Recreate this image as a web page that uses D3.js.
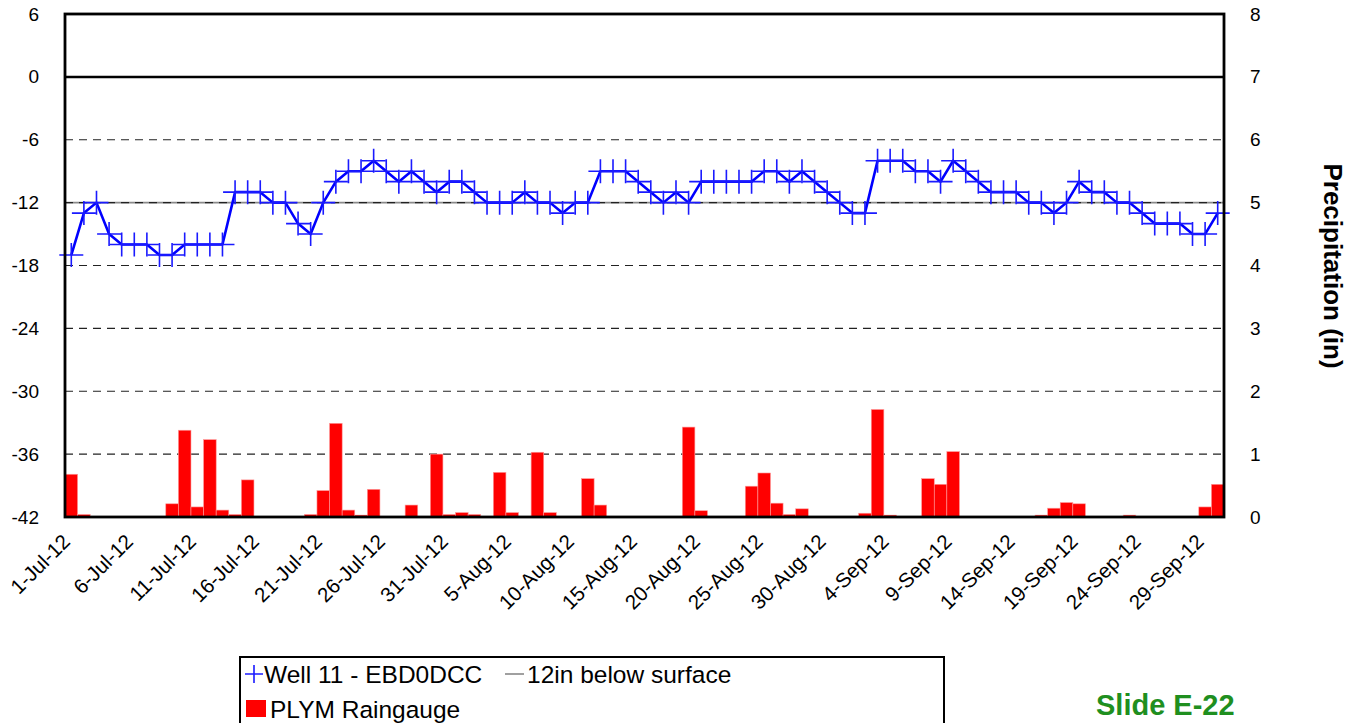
<!DOCTYPE html>
<html>
<head>
<meta charset="utf-8">
<script src="https://cdn.jsdelivr.net/npm/d3@7"></script>
<style>
  html, body { margin: 0; padding: 0; background: #fff; }
  svg { display: block; font-family: "Liberation Sans", Arial, sans-serif; }
</style>
</head>
<body>
<svg id="chart" width="1360" height="723"></svg>
<script>
// Daily groundwater level (inches relative to surface), 1 Jul – 30 Sep 2012
const wellLevel = [
  -17,-13,-12,-15,-16,-16,-16,-17,-17,-16,-16,-16,-16,-11,-11,-11,-12,-12,-14,-15,
  -12,-10,-9,-9,-8,-9,-10,-9,-10,-11,-10,
  -10,-11,-12,-12,-12,-11,-12,-12,-13,-12,-12,-9,-9,-9,-10,-11,-12,-11,-12,-10,
  -10,-10,-10,-10,-9,-9,-10,-9,-10,-11,-12,
  -13,-13,-8,-8,-8,-9,-9,-10,-8,-9,-10,-11,-11,-11,-12,-12,-13,-12,-10,-11,
  -11,-12,-12,-13,-14,-14,-14,-15,-15,-13
];

// Daily rainfall (inches), same days
const rainfall = [
  0.68,0.04,0,0,0,0,0,0,0.21,1.38,0.16,1.23,0.11,0.04,0.59,0,0,0,0,0.04,
  0.42,1.49,0.11,0.03,0.44,0,0,0.19,0,1.0,0.04,
  0.07,0.04,0,0.71,0.07,0,1.03,0.07,0,0,0.61,0.19,0,0,0,0,0,0,1.43,0.10,
  0,0,0,0.49,0.70,0.22,0.04,0.13,0,0,0,
  0,0.06,1.71,0.03,0,0,0.61,0.52,1.04,0,0,0,0,0,0,0.03,0.14,0.23,0.21,0,
  0,0,0.03,0,0,0,0,0,0.16,0.52
];

const thresholdLevel = -12;           // "12in below surface" reference line
const leftTicks  = [-42,-36,-30,-24,-18,-12,-6,0,6];
const rightTicks = [0,1,2,3,4,5,6,7,8];
const legendWell = "Well 11 - EBD0DCC";
const legendThreshold = "12in below surface";
const legendRain = "PLYM Raingauge";
const rightTitle = "Precipitation (in)";
const slideLabel = "Slide E-22";

const days = d3.timeDay.range(new Date(2012, 6, 1), new Date(2012, 9, 1));
const fmt = d3.timeFormat("%-d-%b-%y");
const labelDays = days.filter((d, i) => i % 5 === 0);

const svg = d3.select("#chart");
const plot = { left: 65, right: 1224, top: 14, bottom: 517 };

const x = d3.scaleBand().domain(days).range([plot.left, plot.right]).padding(0);
const yL = d3.scaleLinear().domain([-42, 6]).range([plot.bottom, plot.top]);
const yR = d3.scaleLinear().domain([0, 8]).range([plot.bottom, plot.top]);
const cx = d => x(d) + x.bandwidth() / 2;

// Threshold line (drawn under the dashed grid)
svg.append("line")
  .attr("x1", plot.left).attr("x2", plot.right)
  .attr("y1", yL(thresholdLevel)).attr("y2", yL(thresholdLevel))
  .attr("stroke", "#8a8a8a").attr("stroke-width", 1.6);

// Dashed horizontal gridlines
svg.append("g").selectAll("line")
  .data(leftTicks.filter(v => v > -42 && v < 0))
  .join("line")
  .attr("x1", plot.left).attr("x2", plot.right)
  .attr("y1", d => yL(d)).attr("y2", d => yL(d))
  .attr("stroke", "#222").attr("stroke-width", 1.2)
  .attr("stroke-dasharray", "8,6");

// Rain bars on the secondary axis
svg.append("g").selectAll("rect")
  .data(days.map((d, i) => ({ d, v: rainfall[i] })).filter(o => o.v > 0))
  .join("rect")
  .attr("x", o => x(o.d))
  .attr("width", x.bandwidth())
  .attr("y", o => yR(o.v))
  .attr("height", o => yR(0) - yR(o.v))
  .attr("fill", "#ff0000")
  .attr("stroke", "#ff9a9a").attr("stroke-width", 0.6);

// Ground surface (0) line
svg.append("line")
  .attr("x1", plot.left).attr("x2", plot.right)
  .attr("y1", yL(0)).attr("y2", yL(0))
  .attr("stroke", "#000").attr("stroke-width", 2.5);

// Well level line with plus markers
const pts = days.map((d, i) => ({ d, v: wellLevel[i] }));
svg.append("path")
  .datum(pts)
  .attr("fill", "none")
  .attr("stroke", "#0000ff").attr("stroke-width", 2.6)
  .attr("stroke-linejoin", "round")
  .attr("d", d3.line().x(p => cx(p.d)).y(p => yL(p.v)));

const arm = 12;
const markers = svg.append("g").attr("stroke", "#1a1aff").attr("stroke-width", 1.6);
markers.selectAll("path")
  .data(pts)
  .join("path")
  .attr("d", p => {
    const px = cx(p.d), py = yL(p.v);
    return `M${px - arm},${py}H${px + arm}M${px},${py - arm}V${py + arm}`;
  });

// Plot frame
svg.append("rect")
  .attr("x", plot.left).attr("y", plot.top)
  .attr("width", plot.right - plot.left).attr("height", plot.bottom - plot.top)
  .attr("fill", "none").attr("stroke", "#000").attr("stroke-width", 2.8);

// Axes
const plain = d => String(d);
const axisL = svg.append("g")
  .attr("transform", `translate(${plot.left},0)`)
  .call(d3.axisLeft(yL).tickValues(leftTicks).tickSize(0).tickPadding(26).tickFormat(plain));
const axisR = svg.append("g")
  .attr("transform", `translate(${plot.right},0)`)
  .call(d3.axisRight(yR).tickValues(rightTicks).tickSize(0).tickPadding(26).tickFormat(plain));
[axisL, axisR].forEach(a => {
  a.select(".domain").remove();
  a.selectAll("text").attr("font-size", 19).attr("fill", "#000")
    .attr("font-family", "Liberation Sans, Arial, sans-serif");
});

const axisB = svg.append("g")
  .attr("transform", `translate(0,${plot.bottom})`)
  .call(d3.axisBottom(x).tickValues(labelDays).tickSize(0).tickFormat(fmt));
axisB.select(".domain").remove();
axisB.selectAll("text")
  .attr("font-size", 20.5).attr("fill", "#000")
  .attr("font-family", "Liberation Sans, Arial, sans-serif")
  .attr("text-anchor", "end")
  .attr("dy", null).attr("y", 0)
  .attr("transform", "translate(0,26) rotate(-45)");

// Right axis title
svg.append("text")
  .attr("transform", "translate(1324,266) rotate(90)")
  .attr("text-anchor", "middle")
  .attr("font-size", 26).attr("font-weight", "bold")
  .text(rightTitle);

// Legend
const lg = svg.append("g");
lg.append("rect").attr("x", 240).attr("y", 657).attr("width", 704).attr("height", 90)
  .attr("fill", "#fff").attr("stroke", "#000").attr("stroke-width", 2);
lg.append("path").attr("d", "M245,674H263M254,665V683")
  .attr("stroke", "#1a1aff").attr("stroke-width", 1.6);
lg.append("text").attr("x", 264).attr("y", 683).attr("font-size", 24.5).text(legendWell);
lg.append("line").attr("x1", 505).attr("x2", 524).attr("y1", 674).attr("y2", 674)
  .attr("stroke", "#808080").attr("stroke-width", 1.5);
lg.append("text").attr("x", 527).attr("y", 683).attr("font-size", 24.5).text(legendThreshold);
lg.append("rect").attr("x", 246).attr("y", 700).attr("width", 20).attr("height", 17).attr("fill", "#ff0000");
lg.append("text").attr("x", 270).attr("y", 718).attr("font-size", 24.5).text(legendRain);

// Slide tag
svg.append("text").attr("x", 1096).attr("y", 715)
  .attr("font-size", 29).attr("font-weight", "bold").attr("fill", "#1f8f1f")
  .text(slideLabel);
</script>
</body>
</html>
